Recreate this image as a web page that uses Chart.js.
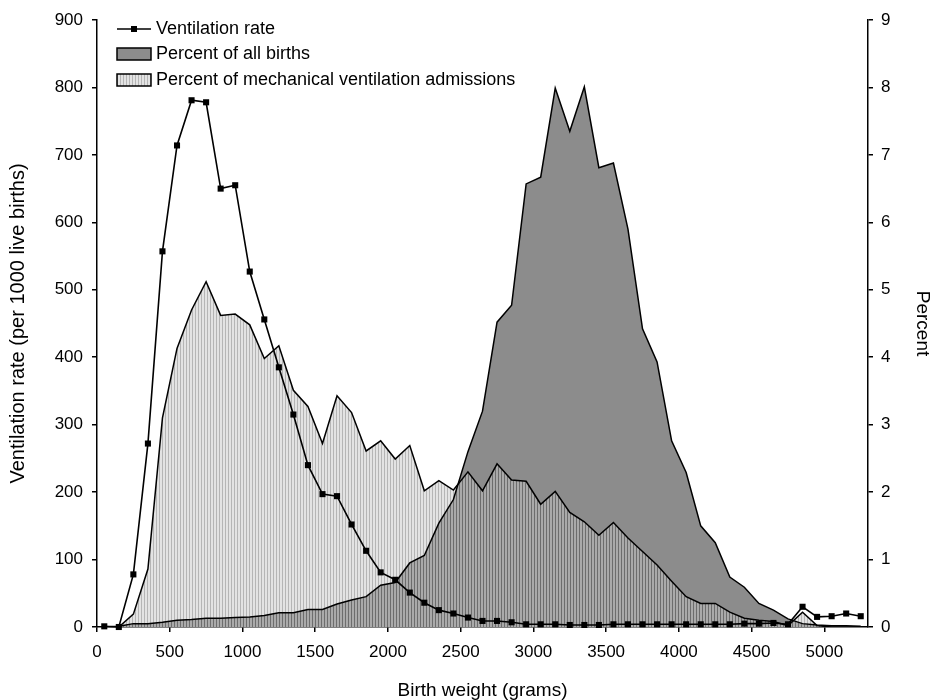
<!DOCTYPE html>
<html>
<head>
<meta charset="utf-8">
<script src="https://cdn.jsdelivr.net/npm/chart.js@4.4.1/dist/chart.umd.min.js"></script>
<style>
  html, body { margin: 0; padding: 0; background: #fff; }
  #wrap { width: 937px; height: 700px; }
</style>
</head>
<body>
<div id="wrap"><canvas id="chart" width="937" height="700"></canvas></div>
<script>
// birth weight bins (grams, bin centres)
const birthWeight = [50, 150, 250, 350, 450, 550, 650, 750, 850, 950,
  1050, 1150, 1250, 1350, 1450, 1550, 1650, 1750, 1850, 1950,
  2050, 2150, 2250, 2350, 2450, 2550, 2650, 2750, 2850, 2950,
  3050, 3150, 3250, 3350, 3450, 3550, 3650, 3750, 3850, 3950,
  4050, 4150, 4250, 4350, 4450, 4550, 4650, 4750, 4850, 4950,
  5050, 5150, 5250];

// ventilation rate per 1000 live births (left axis)
const ventRate = [1, 0, 78, 272, 557, 714, 781, 778, 650, 655,
  527, 456, 385, 315, 240, 197, 194, 152, 113, 81,
  70, 51, 36, 25, 20, 14, 9, 9, 7, 4,
  4, 4, 3, 3, 3, 4, 4, 4, 4, 4,
  4, 4, 4, 4, 5, 5, 6, 4, 30, 15,
  16, 20, 16];

// percent of all births (right axis)
const pctBirths = [0, 0.01, 0.05, 0.05, 0.07, 0.1, 0.11, 0.13, 0.13, 0.14,
  0.15, 0.17, 0.21, 0.21, 0.26, 0.26, 0.34, 0.4, 0.45, 0.62,
  0.66, 0.95, 1.06, 1.54, 1.89, 2.6, 3.2, 4.52, 4.77, 6.57,
  6.67, 7.99, 7.35, 8.01, 6.81, 6.88, 5.9, 4.42, 3.93, 2.76,
  2.29, 1.5, 1.25, 0.74, 0.59, 0.35, 0.25, 0.12, 0.05, 0.03,
  0.02, 0.02, 0.01];

// percent of mechanical ventilation admissions (right axis)
const pctVentAdm = [0, 0, 0.19, 0.86, 3.1, 4.13, 4.7, 5.12, 4.62, 4.64,
  4.48, 3.98, 4.17, 3.51, 3.27, 2.72, 3.43, 3.18, 2.61, 2.76,
  2.49, 2.69, 2.02, 2.17, 2.03, 2.3, 2.02, 2.42, 2.18, 2.16,
  1.82, 2.01, 1.7, 1.56, 1.36, 1.55, 1.32, 1.12, 0.92, 0.68,
  0.45, 0.35, 0.35, 0.22, 0.13, 0.1, 0.08, 0.02, 0.22, 0.02,
  0, 0, 0];

// axis ranges: [min, max, step]
const leftTicks = [0, 900, 100];
const rightTicks = [0, 9, 1];
const xRange = [0, 5300];
const xTickValues = [0, 500, 1000, 1500, 2000, 2500, 3000, 3500, 4000, 4500, 5000];

const FONT = '"Liberation Sans", Arial, sans-serif';
const DARK = '#8c8c8c';

function toXY(vals) {
  return birthWeight.map((w, i) => ({ x: w, y: vals[i] }));
}
const plain = v => String(v);

// vertical hatch used for the admissions area
function stripes() {
  const c = document.createElement('canvas');
  c.width = 3; c.height = 4;
  const g = c.getContext('2d');
  g.fillStyle = 'rgba(60,60,60,0.38)';
  g.fillRect(0, 0, 1, 4);
  g.fillStyle = 'rgba(200,200,200,0.5)';
  g.fillRect(1, 0, 2, 4);
  return g.createPattern(c, 'repeat');
}
const hatch = stripes();

// legend drawn inside the plot, stacked like the original
const boxLegend = {
  id: 'boxLegend',
  afterDraw(chart) {
    const ctx = chart.ctx;
    ctx.save();
    ctx.font = '18px ' + FONT;
    ctx.textBaseline = 'middle';
    ctx.fillStyle = '#000';
    ctx.strokeStyle = '#000';
    ctx.lineWidth = 1.5;
    ctx.beginPath();
    ctx.moveTo(117, 29); ctx.lineTo(151, 29);
    ctx.stroke();
    ctx.fillRect(131, 26, 6, 6);
    ctx.fillText('Ventilation rate', 156, 29);

    ctx.fillStyle = DARK;
    ctx.fillRect(117, 48, 34, 12);
    ctx.strokeRect(117, 48, 34, 12);
    ctx.fillStyle = '#000';
    ctx.fillText('Percent of all births', 156, 54);

    ctx.fillStyle = hatch;
    ctx.fillRect(117, 74, 34, 12);
    ctx.strokeRect(117, 74, 34, 12);
    ctx.fillStyle = '#000';
    ctx.fillText('Percent of mechanical ventilation admissions', 156, 80);
    ctx.restore();
  }
};

const axisGrid = { drawOnChartArea: false, drawTicks: true, tickLength: 5, color: '#000', lineWidth: 1.5 };
const axisBorder = { display: true, color: '#000', width: 1.5 };

new Chart(document.getElementById('chart'), {
  type: 'line',
  data: {
    datasets: [
      {
        label: 'Ventilation rate',
        data: toXY(ventRate),
        yAxisID: 'y',
        borderColor: '#000',
        backgroundColor: '#000',
        borderWidth: 1.6,
        pointStyle: 'rect',
        pointRadius: 4.3,
        pointBorderWidth: 0,
        fill: false,
        clip: false
      },
      {
        label: 'Percent of mechanical ventilation admissions',
        data: toXY(pctVentAdm),
        yAxisID: 'y2',
        borderColor: '#000',
        backgroundColor: hatch,
        borderWidth: 1.5,
        pointRadius: 0,
        fill: 'origin'
      },
      {
        label: 'Percent of all births',
        data: toXY(pctBirths),
        yAxisID: 'y2',
        borderColor: '#000',
        backgroundColor: DARK,
        borderWidth: 1.5,
        pointRadius: 0,
        fill: 'origin'
      }
    ]
  },
  options: {
    responsive: false,
    animation: false,
    layout: { padding: { top: 20, left: 0, right: 0, bottom: 0 } },
    elements: { line: { tension: 0 } },
    plugins: {
      legend: { display: false },
      tooltip: { enabled: false },
      filler: { drawTime: 'beforeDatasetsDraw' }
    },
    scales: {
      x: {
        type: 'linear',
        min: xRange[0], max: xRange[1],
        afterBuildTicks: s => { s.ticks = xTickValues.map(v => ({ value: v })); },
        afterFit: s => { s.height = 73; },
        ticks: { color: '#000', font: { size: 17, family: FONT }, padding: 10, maxRotation: 0, autoSkip: false, callback: plain },
        grid: axisGrid,
        border: axisBorder,
        title: { display: true, text: 'Birth weight (grams)', color: '#000', font: { size: 19, family: FONT }, padding: { top: 0, bottom: -2 } }
      },
      y: {
        position: 'left',
        min: leftTicks[0], max: leftTicks[1],
        afterFit: s => { s.width = 97; },
        ticks: { stepSize: leftTicks[2], color: '#000', font: { size: 17, family: FONT }, padding: 9, callback: plain },
        grid: axisGrid,
        border: axisBorder,
        title: { display: true, text: 'Ventilation rate (per 1000 live births)', color: '#000', font: { size: 20, family: FONT }, padding: { top: 6, bottom: 0 } }
      },
      y2: {
        position: 'right',
        min: rightTicks[0], max: rightTicks[1],
        afterFit: s => { s.width = 69; },
        ticks: { stepSize: rightTicks[2], color: '#000', font: { size: 17, family: FONT }, padding: 8, callback: plain },
        grid: axisGrid,
        border: axisBorder,
        title: { display: true, text: 'Percent', color: '#000', font: { size: 19, family: FONT }, padding: { top: 3, bottom: 0 } }
      }
    }
  },
  plugins: [boxLegend]
});
</script>
</body>
</html>
